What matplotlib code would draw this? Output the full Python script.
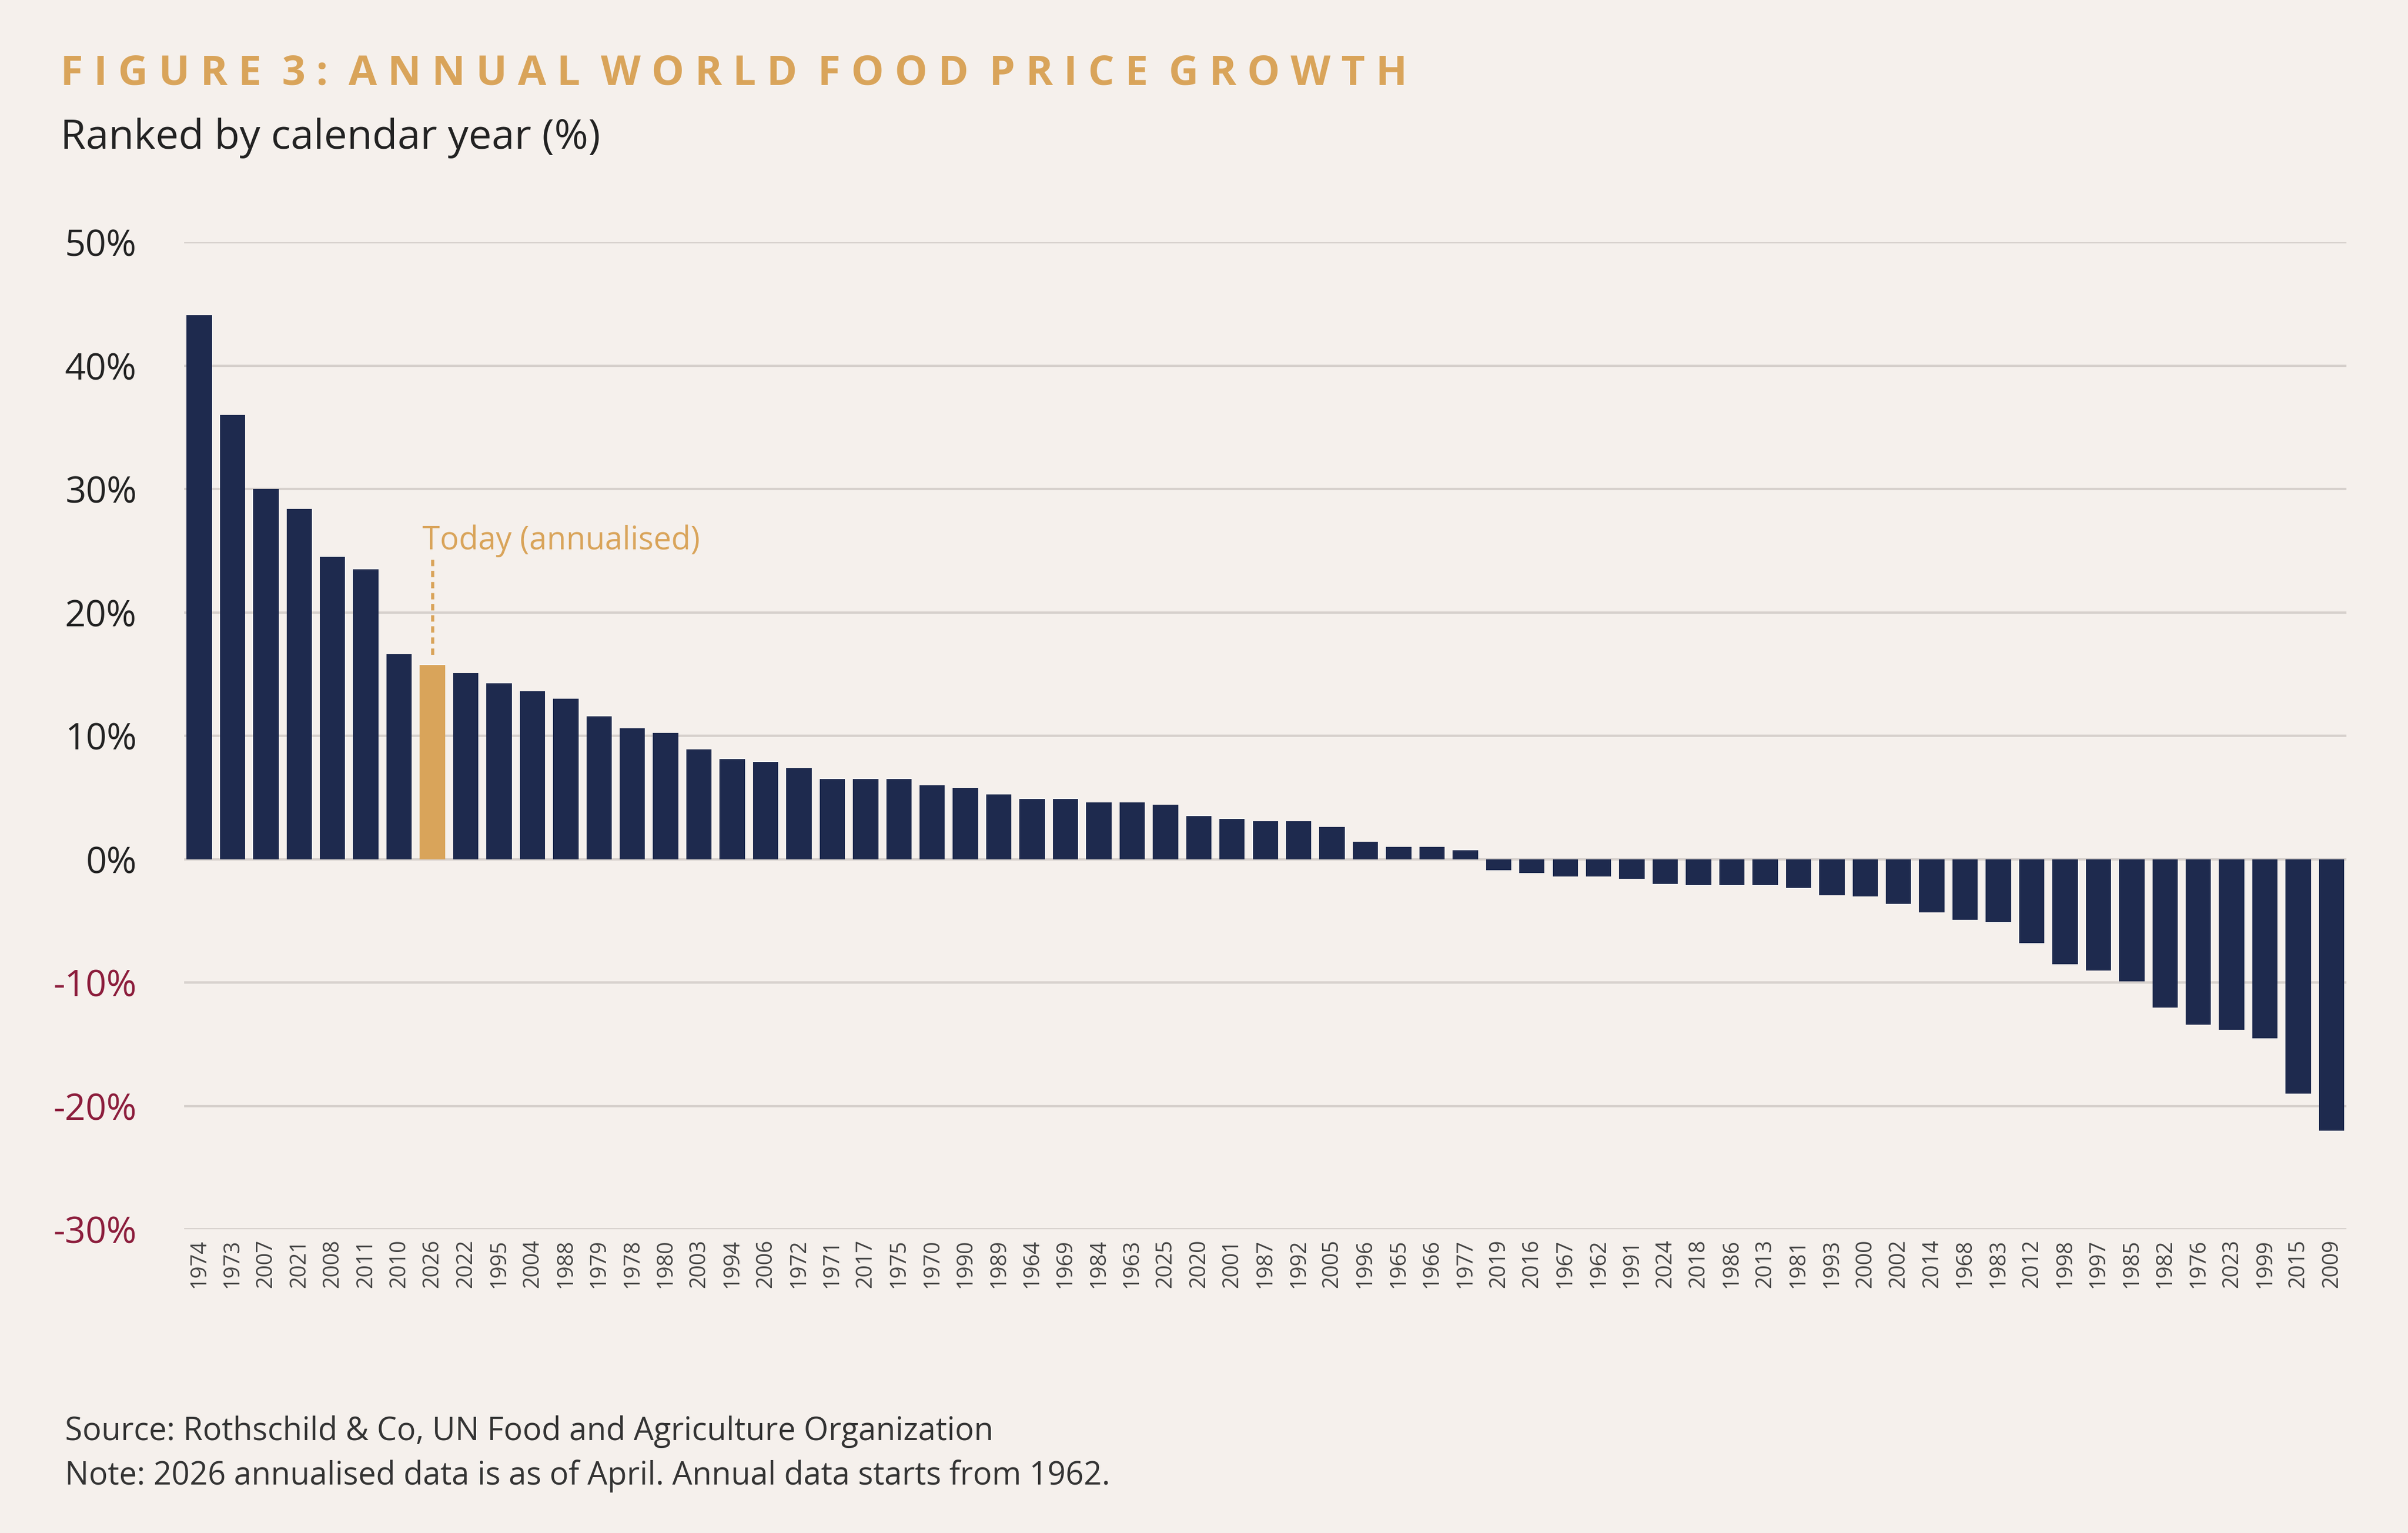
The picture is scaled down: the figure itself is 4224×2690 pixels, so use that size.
import matplotlib
matplotlib.use("Agg")
import matplotlib.pyplot as plt

years = ["1974","1973","2007","2021","2008","2011","2010","2026","2022","1995","2004","1988","1979","1978","1980","2003","1994","2006","1972","1971","2017","1975","1970","1990","1989","1964","1969","1984","1963","2025","2020","2001","1987","1992","2005","1996","1965","1966","1977","2019","2016","1967","1962","1991","2024","2018","1986","2013","1981","1993","2000","2002","2014","1968","1983","2012","1998","1997","1985","1982","1976","2023","1999","2015","2009"]
growth = [44.1,36.0,30.0,28.4,24.5,23.5,16.6,15.75,15.1,14.25,13.6,13.0,11.6,10.6,10.25,8.9,8.1,7.9,7.4,6.5,6.5,6.5,6.0,5.75,5.25,4.9,4.9,4.6,4.6,4.4,3.5,3.25,3.1,3.1,2.6,1.4,1.0,1.0,0.75,-0.9,-1.1,-1.4,-1.4,-1.6,-2.0,-2.1,-2.1,-2.1,-2.3,-2.9,-3.0,-3.6,-4.3,-4.9,-5.1,-6.8,-8.5,-9.0,-9.9,-12.0,-13.4,-13.8,-14.5,-19.0,-22.0]
yticks = [50,40,30,20,10,0,-10,-20,-30]
highlight = "2026"

BG = "#f5f0ec"; NAVY = "#1e2a4e"; GOLD = "#d9a45a"; RED = "#8c1d3c"; GRID = "#d6d0cc"
plt.rcParams['font.family'] = ['Open Sans', 'DejaVu Sans']

fig = plt.figure(figsize=(42.24, 26.90), dpi=100, facecolor=BG)
ax = fig.add_axes([0.0765, 0.198, 0.898, 0.644], facecolor=BG)
colors = [GOLD if y == highlight else NAVY for y in years]
x = list(range(len(years)))
ax.bar(x, growth, width=0.76, color=colors, zorder=3)
ax.set_ylim(-30, 50)
ax.set_xlim(-0.45, len(years) - 0.55)
ax.set_yticks(yticks)
ax.set_yticklabels([f"{v}%" for v in yticks], fontsize=46)
for t, v in zip(ax.get_yticklabels(), yticks):
    t.set_color(RED if v < 0 else "#222222")
ax.tick_params(axis='y', length=0, pad=60)
ax.set_xticks(x)
ax.set_xticklabels(years, rotation=90, fontsize=27, color="#444444")
ax.tick_params(axis='x', length=0, pad=12)
ax.grid(axis='y', color=GRID, linewidth=3, zorder=0)
for s in ax.spines.values():
    s.set_visible(False)

hi = years.index(highlight)
ax.plot([hi, hi], [growth[hi] + 0.8, 24.3], color=GOLD, linestyle=(0, (2, 1.5)), linewidth=4, zorder=4)
ax.text(hi - 0.3, 25.8, "Today (annualised)", color=GOLD, fontsize=40, ha='left', va='center')

fig.text(0.025, 0.952, "F I G U R E  3 :  A N N U A L  W O R L D  F O O D  P R I C E  G R O W T H".replace("  ", "\u2002"),
         color=GOLD, fontsize=52, fontweight='bold', ha='left', va='center')
fig.text(0.025, 0.910, "Ranked by calendar year (%)", color="#222222", fontsize=52, ha='left', va='center')
fig.text(0.027, 0.066, "Source: Rothschild & Co, UN Food and Agriculture Organization", color="#333333", fontsize=40, ha='left', va='center')
fig.text(0.027, 0.037, "Note: 2026 annualised data is as of April. Annual data starts from 1962.", color="#333333", fontsize=40, ha='left', va='center')

fig.savefig("out.png", dpi=100, facecolor=BG)
